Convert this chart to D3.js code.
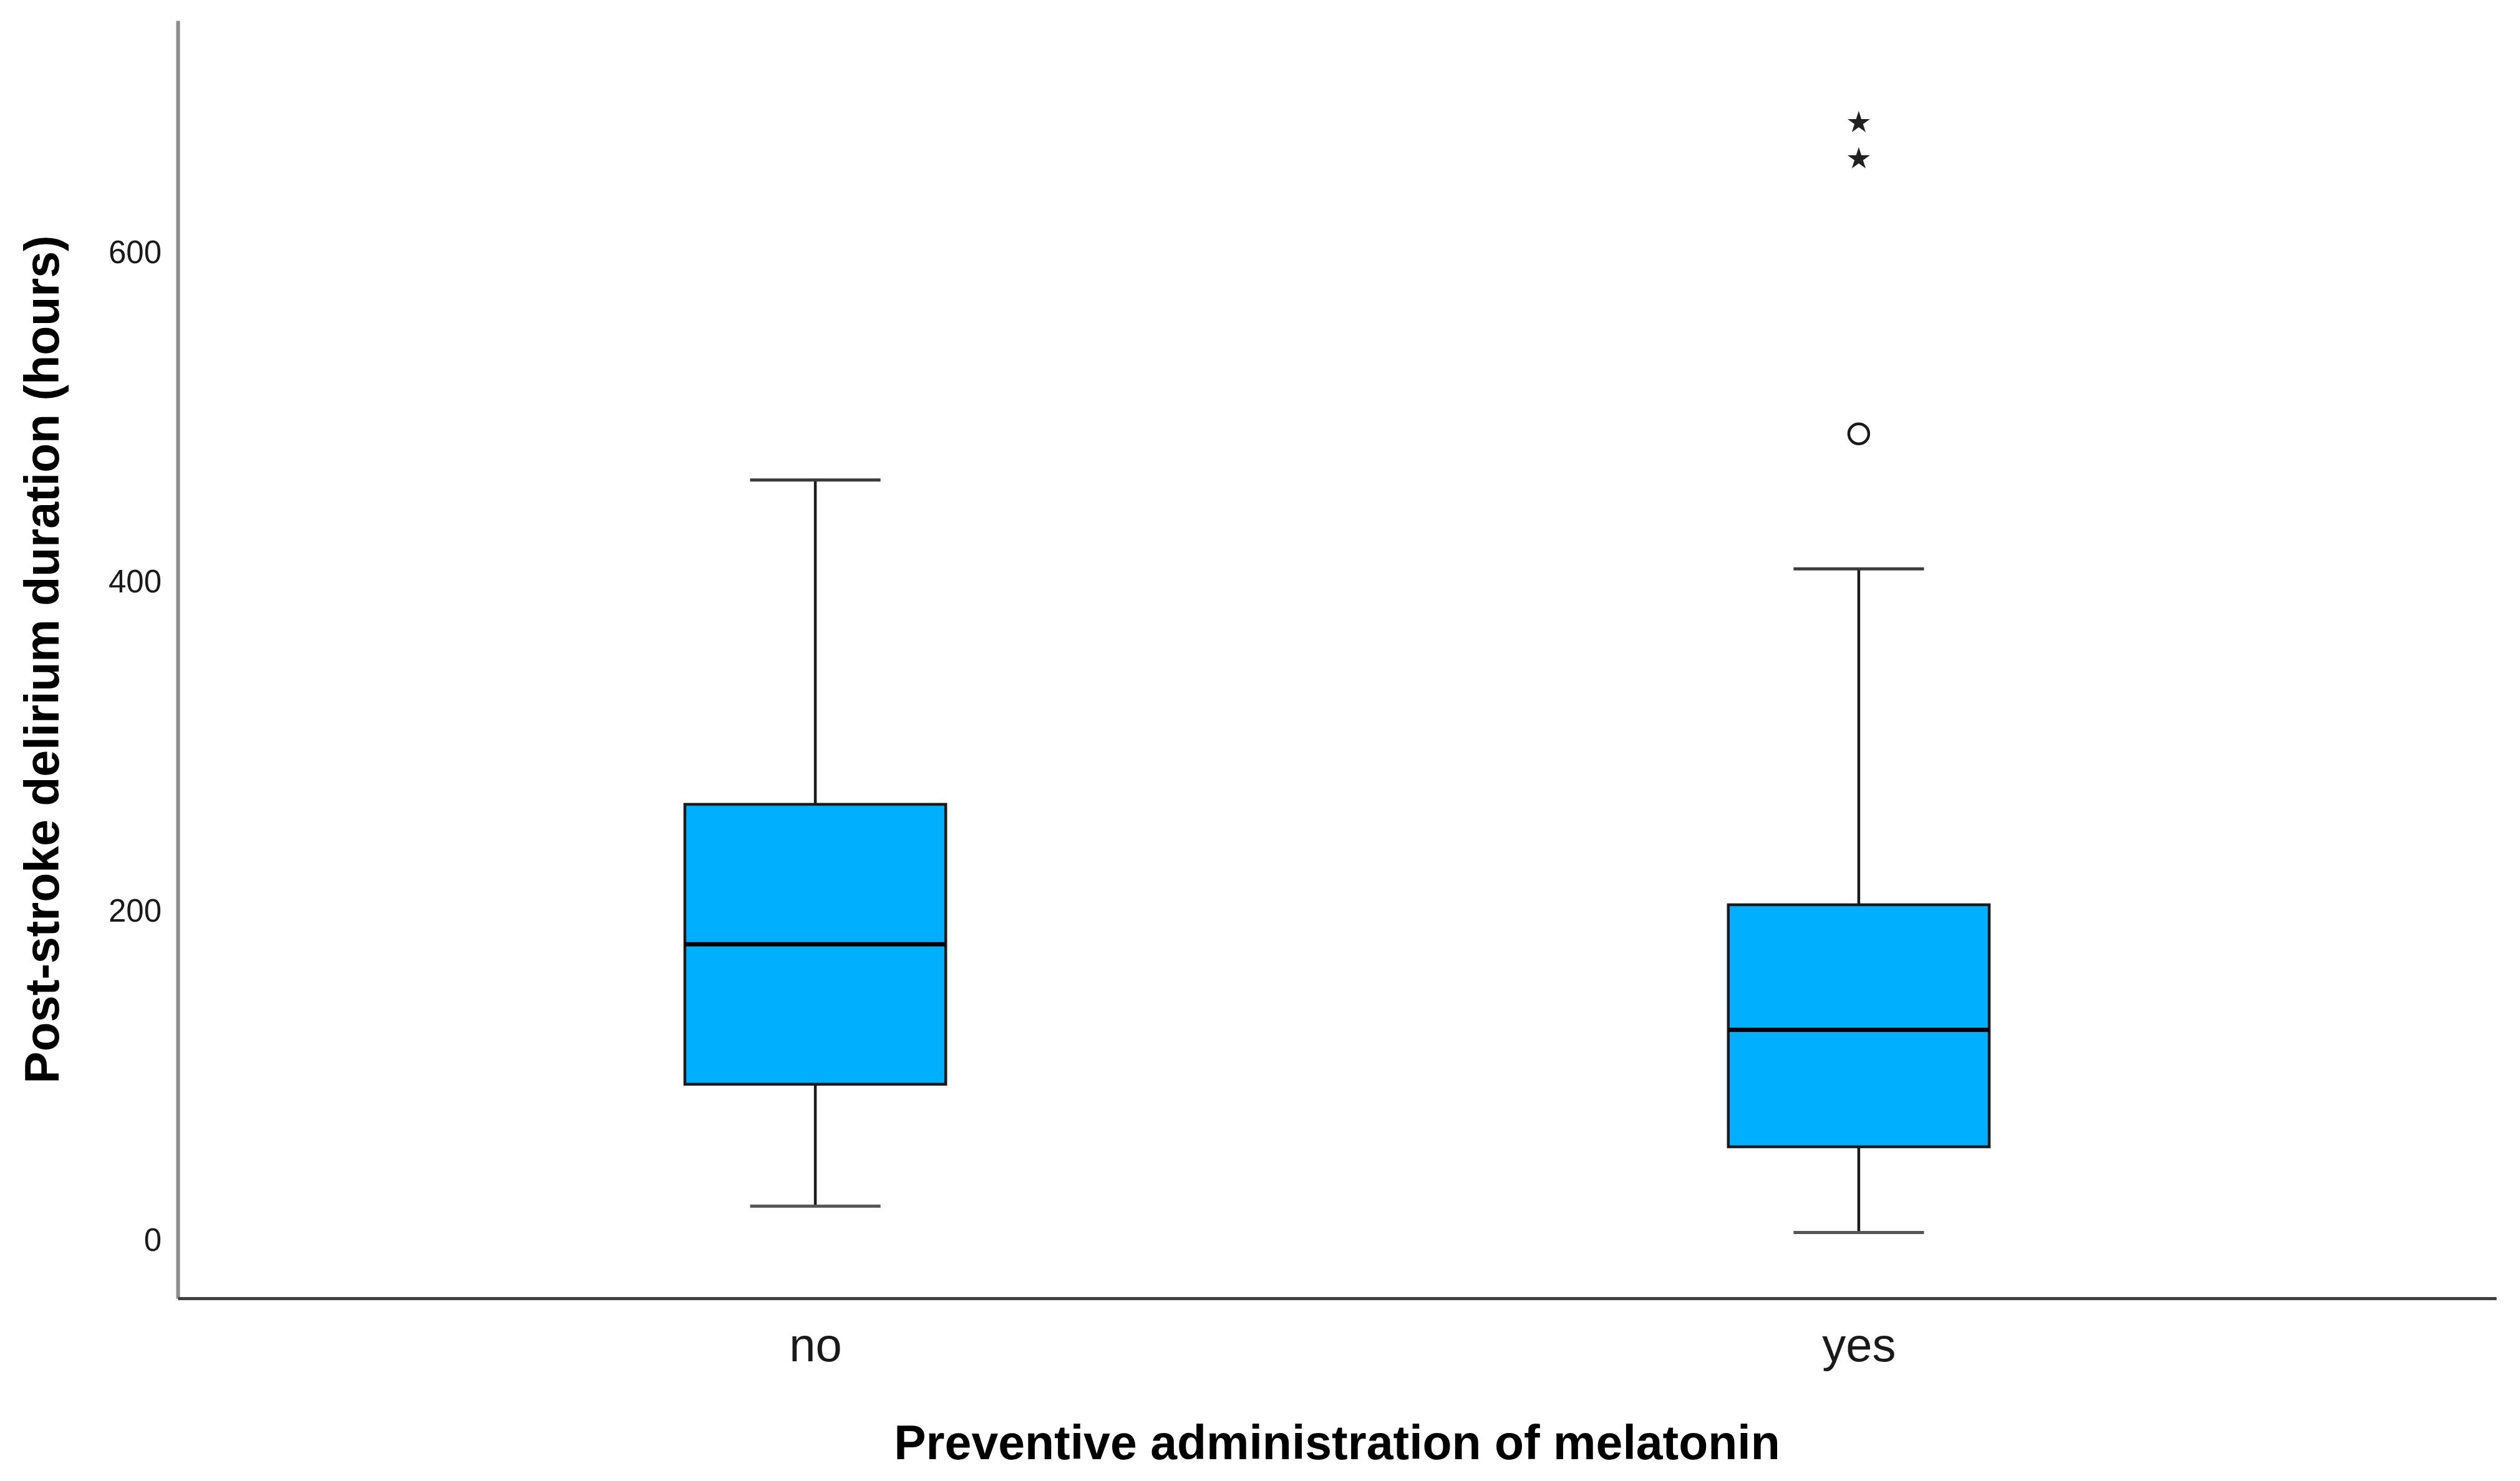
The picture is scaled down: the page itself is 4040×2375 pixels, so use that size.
<!DOCTYPE html>
<html>
<head>
    <title>Post-stroke delirium duration</title>
    <script src="https://d3js.org/d3.v7.min.js"></script>
    <style>
        body { margin: 0; background: #fff; }
        text { font-family: "Liberation Sans", Arial, sans-serif; }
    </style>
</head>
<body>
    <svg width="4040" height="2375"></svg>
    <script>
        // box plot summary (hours)
        const categories = ["no", "yes"];
        const whiskerLow = [21, 5];
        const q1 = [95, 57];
        const median = [180, 128];
        const q3 = [265, 204];
        const whiskerHigh = [462, 408];
        // outliers: circle = mild, star = extreme
        const outlierCircles = [{cat: "yes", value: 490}];
        const outlierStars = [{cat: "yes", value: 657}, {cat: "yes", value: 679}];
        const yTicks = [0, 200, 400, 600];

        const boxes = categories.map((c, i) => ({
            cat: c, lo: whiskerLow[i], q1: q1[i], med: median[i], q3: q3[i], hi: whiskerHigh[i]
        }));

        const svg = d3.select("svg"),
              margin = {top: 33, right: 38, bottom: 293, left: 285},
              width = +svg.attr("width"),
              height = +svg.attr("height");

        const x = d3.scalePoint()
                    .domain(categories)
                    .range([margin.left, width - margin.right])
                    .padding(0.611);
        const y = d3.scaleLinear()
                    .domain([-35, 741])
                    .range([height - margin.bottom, margin.top]);

        const boxW = x.step() * 0.25;
        const capW = boxW / 2;

        // y axis (no tick marks, labels only)
        const gy = svg.append("g")
           .attr("transform", `translate(${margin.left},0)`)
           .call(d3.axisLeft(y).tickValues(yTicks).tickSize(0).tickPadding(26));
        gy.select(".domain").attr("stroke", "#8c8c8c").attr("stroke-width", 6);
        gy.selectAll("text").style("font-size", "51px").attr("fill", "#1a1a1a");

        // x axis
        const gx = svg.append("g")
           .attr("transform", `translate(0,${height - margin.bottom})`)
           .call(d3.axisBottom(x).tickSize(0).tickPadding(47));
        gx.select(".domain").attr("stroke", "#404040").attr("stroke-width", 5);
        gx.selectAll("text").style("font-size", "76px").attr("fill", "#1a1a1a");

        // whiskers
        const g = svg.append("g");
        g.selectAll(".stem-hi").data(boxes).enter().append("line")
            .attr("x1", d => x(d.cat)).attr("x2", d => x(d.cat))
            .attr("y1", d => y(d.q3)).attr("y2", d => y(d.hi))
            .attr("stroke", "#1a1a1a").attr("stroke-width", 4.5);
        g.selectAll(".stem-lo").data(boxes).enter().append("line")
            .attr("x1", d => x(d.cat)).attr("x2", d => x(d.cat))
            .attr("y1", d => y(d.q1)).attr("y2", d => y(d.lo))
            .attr("stroke", "#1a1a1a").attr("stroke-width", 4.5);
        g.selectAll(".cap-hi").data(boxes).enter().append("line")
            .attr("x1", d => x(d.cat) - capW / 2).attr("x2", d => x(d.cat) + capW / 2)
            .attr("y1", d => y(d.hi)).attr("y2", d => y(d.hi))
            .attr("stroke", "#3a3a3a").attr("stroke-width", 5);
        g.selectAll(".cap-lo").data(boxes).enter().append("line")
            .attr("x1", d => x(d.cat) - capW / 2).attr("x2", d => x(d.cat) + capW / 2)
            .attr("y1", d => y(d.lo)).attr("y2", d => y(d.lo))
            .attr("stroke", "#555").attr("stroke-width", 5);

        // boxes
        g.selectAll(".box").data(boxes).enter().append("rect")
            .attr("x", d => x(d.cat) - boxW / 2)
            .attr("width", boxW)
            .attr("y", d => y(d.q3))
            .attr("height", d => y(d.q1) - y(d.q3))
            .attr("fill", "#00b0ff")
            .attr("stroke", "#1a1a1a").attr("stroke-width", 4.5);

        // medians
        g.selectAll(".med").data(boxes).enter().append("line")
            .attr("x1", d => x(d.cat) - boxW / 2).attr("x2", d => x(d.cat) + boxW / 2)
            .attr("y1", d => y(d.med)).attr("y2", d => y(d.med))
            .attr("stroke", "#000").attr("stroke-width", 7);

        // outliers
        g.selectAll(".out").data(outlierCircles).enter().append("circle")
            .attr("cx", d => x(d.cat)).attr("cy", d => y(d.value))
            .attr("r", 16)
            .attr("fill", "#fff").attr("stroke", "#1a1a1a").attr("stroke-width", 4.5);
        g.selectAll(".star").data(outlierStars).enter().append("path")
            .attr("transform", d => `translate(${x(d.cat)},${y(d.value)})`)
            .attr("d", d3.symbol().type(d3.symbolStar).size(400))
            .attr("fill", "#222");

        // axis titles
        svg.append("text")
            .attr("x", (margin.left + width - margin.right) / 2)
            .attr("y", 2340)
            .attr("text-anchor", "middle")
            .style("font-size", "77px").style("font-weight", "bold")
            .text("Preventive administration of melatonin");
        svg.append("text")
            .attr("transform", `translate(94,${(margin.top + height - margin.bottom) / 2}) rotate(-90)`)
            .attr("text-anchor", "middle")
            .style("font-size", "77px").style("font-weight", "bold")
            .text("Post-stroke delirium duration (hours)");
    </script>
</body>
</html>
